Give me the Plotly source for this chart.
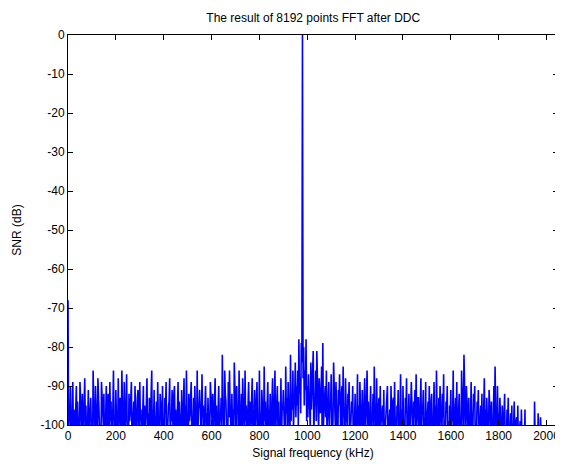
import plotly.graph_objects as go

# Frequency bin spacing (kHz) of the read-off samples
step_khz = 5

# SNR (dB), one list per 200 kHz band (bins at start + 5*i kHz)
snr_0000 = [-68, -97, -90, -103, -89, -96, -101, -90, -94, -105, -89, -98, -92, -100, -88, -95, -104, -91, -99, -93,
            -102, -86, -97, -90, -106, -88, -95, -100, -89, -97, -92, -104, -90, -96, -101, -89, -94, -99, -86, -98]
snr_0200 = [-91, -103, -88, -96, -100, -86, -95, -89, -99, -87, -104, -92, -97, -89, -101, -94, -90, -106, -93, -98,
            -89, -96, -102, -90, -95, -99, -88, -97, -93, -103, -86, -96, -91, -100, -94, -89, -105, -92, -97, -90]
snr_0400 = [-99, -93, -89, -102, -95, -88, -97, -91, -104, -90, -96, -100, -89, -94, -98, -91, -103, -88, -95, -86,
            -101, -92, -97, -89, -105, -93, -90, -99, -86, -96, -91, -102, -87, -95, -100, -90, -97, -93, -104, -89]
snr_0600 = [-96, -92, -100, -88, -95, -103, -90, -97, -93, -82, -98, -86, -94, -101, -89, -86, -99, -92, -96, -84,
            -100, -90, -95, -86, -104, -92, -88, -98, -86, -95, -101, -89, -94, -97, -88, -103, -91, -96, -89, -100]
snr_0800 = [-86, -97, -91, -99, -85, -94, -102, -89, -96, -92, -100, -88, -95, -86, -99, -90, -94, -103, -88, -96,
            -91, -98, -85, -93, -89, -97, -82, -92, -86, -95, -84, -90, -86, -78, -88, -79, 0, -80, -86, -78]
snr_1000 = [-90, -87, -95, -84, -91, -81, -93, -86, -81, -94, -88, -97, -85, -79, -96, -90, -86, -99, -89, -94,
            -87, -100, -84, -93, -89, -98, -91, -87, -102, -90, -85, -96, -88, -99, -92, -89, -101, -94, -90, -97]
snr_1200 = [-92, -100, -87, -95, -89, -103, -91, -96, -88, -99, -86, -94, -101, -90, -97, -92, -85, -98, -88, -104,
            -93, -90, -99, -95, -91, -105, -94, -90, -100, -96, -90, -102, -93, -89, -98, -95, -91, -103, -87, -96]
snr_1400 = [-90, -99, -93, -88, -104, -92, -96, -89, -100, -94, -91, -87, -98, -93, -102, -88, -95, -91, -99, -89,
            -103, -94, -90, -97, -92, -105, -89, -95, -86, -100, -93, -90, -98, -92, -87, -103, -94, -90, -99, -95]
snr_1600 = [-91, -97, -86, -102, -93, -89, -98, -92, -104, -86, -95, -82, -99, -90, -96, -93, -101, -89, -97, -92,
            -90, -103, -94, -91, -100, -95, -92, -106, -88, -96, -93, -101, -91, -98, -94, -104, -90, -85, -99, -90]
snr_1800 = [-97, -93, -101, -95, -99, -92, -104, -96, -93, -102, -97, -95, -106, -94, -100, -98, -95, -105, -99, -96,
            -103, -101, -96, -108, -104, -102, -110, -106, -103, -108, -94, -112, -107, -97, -109, -98, -113, -106, -110, -108]
snr_2000 = [-107, -111, -105, -109, -112, -106, -110, -108, -113, -107]

# SNR (dB) at the in-between bins (start + 2.5 + 5*i kHz)
mid_0000 = [-104, -99, -106, -97, -101, -108, -95, -103, -99, -110, -96, -102, -105, -93, -100, -107, -98, -104, -96, -101,
            -109, -94, -103, -99, -106, -97, -102, -108, -95, -100, -105, -98, -107, -92, -103, -99, -110, -96, -101, -104]
mid_0200 = [-98, -106, -100, -93, -104, -97, -109, -101, -95, -103, -107, -99, -94, -105, -100, -108, -96, -102, -91, -106,
            -99, -104, -97, -110, -101, -95, -103, -107, -98, -92, -105, -100, -108, -96, -102, -99, -106, -94, -104, -101]
mid_0400 = [-103, -97, -108, -100, -94, -106, -99, -104, -92, -101, -109, -96, -103, -98, -107, -100, -95, -105, -102, -97,
            -110, -99, -93, -104, -100, -106, -97, -102, -108, -95, -101, -104, -98, -107, -93, -100, -105, -99, -103, -96]
mid_0600 = [-100, -105, -96, -102, -108, -94, -101, -99, -106, -97, -103, -92, -100, -107, -98, -95, -104, -100, -109, -93,
            -102, -97, -105, -99, -101, -108, -94, -103, -99, -106, -96, -100, -104, -91, -107, -99, -102, -97, -105, -101]
mid_0800 = [-101, -106, -97, -103, -99, -108, -95, -102, -100, -105, -94, -107, -98, -103, -92, -101, -106, -99, -104, -96,
            -100, -108, -97, -102, -94, -105, -99, -96, -101, -93, -98, -95, -100, -92, -97, -84, -88, -95, -91, -99]
mid_1000 = [-98, -93, -101, -96, -89, -104, -95, -99, -91, -102, -97, -93, -106, -100, -94, -98, -103, -92, -100, -96,
            -105, -99, -94, -101, -97, -108, -95, -100, -93, -103, -98, -106, -96, -101, -94, -104, -99, -97, -107, -100]
mid_1200 = [-104, -97, -101, -108, -95, -100, -106, -98, -103, -93, -100, -107, -96, -102, -99, -109, -97, -104, -101, -95,
            -106, -100, -97, -103, -108, -99, -95, -104, -101, -106, -98, -94, -103, -100, -107, -97, -105, -99, -102, -110]
mid_1400 = [-101, -106, -97, -103, -99, -108, -95, -102, -106, -98, -104, -100, -93, -107, -99, -103, -96, -105, -101, -109,
            -97, -100, -104, -94, -106, -99, -102, -108, -96, -103, -100, -94, -105, -98, -107, -101, -97, -104, -110, -99]
mid_1600 = [-103, -99, -107, -96, -101, -105, -94, -100, -108, -97, -103, -99, -106, -93, -102, -107, -98, -104, -100, -95,
            -109, -101, -97, -105, -99, -103, -108, -96, -100, -106, -98, -104, -95, -102, -107, -99, -101, -96, -105, -100]
mid_1800 = [-104, -99, -107, -101, -97, -109, -103, -100, -108, -98, -105, -110, -101, -104, -99, -112, -106, -101, -108, -103,
            -110, -106, -112, -104, -109, -113, -107, -111, -105, -114, -108, -110, -112, -106, -111, -109, -114, -107, -112, -110]
mid_2000 = [-112, -108, -110, -114, -109, -111, -107, -113, -110, -112]

bands = [(0, snr_0000, mid_0000), (200, snr_0200, mid_0200), (400, snr_0400, mid_0400),
         (600, snr_0600, mid_0600), (800, snr_0800, mid_0800), (1000, snr_1000, mid_1000),
         (1200, snr_1200, mid_1200), (1400, snr_1400, mid_1400), (1600, snr_1600, mid_1600),
         (1800, snr_1800, mid_1800), (2000, snr_2000, mid_2000)]

freq = []
snr = []
for start, vals, mids in bands:
    for i, (v, m) in enumerate(zip(vals, mids)):
        freq.append(start + step_khz * i)
        snr.append(v)
        freq.append(start + step_khz * i + step_khz / 2)
        snr.append(m)

x_ticks = [0, 200, 400, 600, 800, 1000, 1200, 1400, 1600, 1800, 2000]
y_ticks = [0, -10, -20, -30, -40, -50, -60, -70, -80, -90, -100]

fig = go.Figure()
fig.add_trace(go.Scatter(x=freq, y=snr, mode="lines",
                         line=dict(color="#0000FF", width=1.6), showlegend=False,
                         hoverinfo="skip"))

font = dict(family="Liberation Sans, Arial, sans-serif", size=12, color="black")
axis_common = dict(showline=True, linecolor="black", linewidth=1, mirror="ticks",
                   ticks="inside", ticklen=5, tickcolor="black", tickwidth=1,
                   showgrid=False, zeroline=False, tickfont=font)

# The page body has an 8 px margin, so the figure is 8 px smaller than the window
fig.update_layout(
    width=555, height=456,
    margin=dict(l=60, r=5, t=27, b=39, autoexpand=False),
    paper_bgcolor="white", plot_bgcolor="white",
    font=font,
    title=dict(text="The result of 8192 points FFT after DDC", x=0.55, xanchor="center",
               y=0.978, yanchor="middle", font=dict(size=12, family=font["family"])),
    xaxis=dict(range=[0, 2048], tickvals=x_ticks, ticktext=[str(t) for t in x_ticks],
               title=dict(text="Signal frequency (kHz)", standoff=6, font=font),
               **axis_common),
    yaxis=dict(range=[-100, 0], tickvals=y_ticks, ticktext=[str(t) for t in y_ticks],
               title=dict(text="SNR (dB)", standoff=16, font=font),
               **axis_common),
)

fig.write_html("out.html")
